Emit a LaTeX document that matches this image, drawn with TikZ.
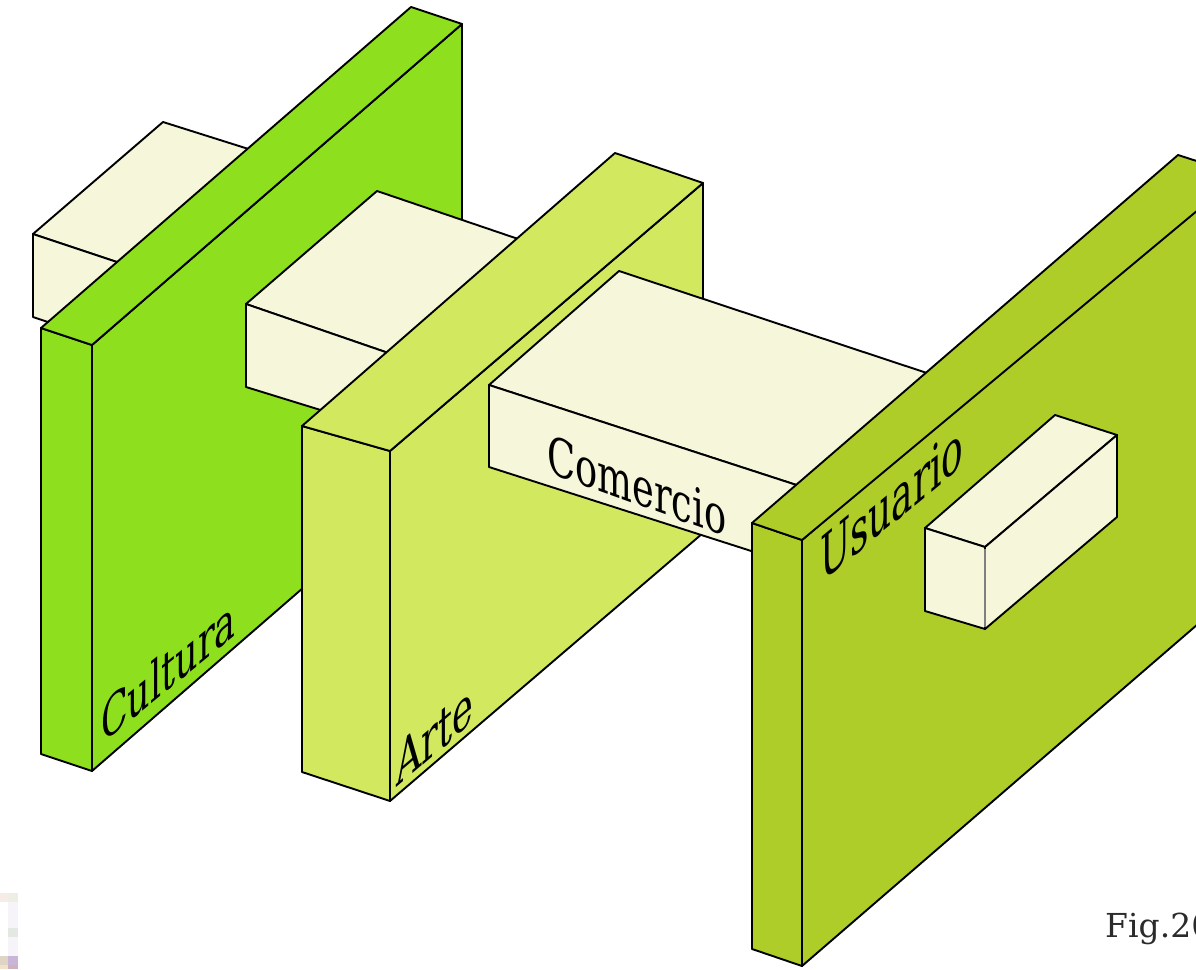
\documentclass[tikz,border=0pt]{standalone}
\usepackage{fontspec}
\setmainfont{DejaVu Serif}
\definecolor{cult}{HTML}{8EE01E}
\definecolor{arte}{HTML}{D2E95F}
\definecolor{usua}{HTML}{AFCD28}
\definecolor{crem}{HTML}{F5F6DA}
\definecolor{figc}{HTML}{2B2B2B}
\definecolor{smA}{HTML}{F5ECE8}
\definecolor{smB}{HTML}{EEEEE4}
\definecolor{smC}{HTML}{E4E8E2}
\definecolor{smD}{HTML}{F6F4F8}
\definecolor{smE}{HTML}{E0D5C5}
\definecolor{smF}{HTML}{C8B5D8}
\definecolor{smG}{HTML}{EFE2C8}
\definecolor{smH}{HTML}{D0B0C0}
\tikzset{
  edge/.style={draw=black,line width=1.9pt,line join=round},
  cream/.style={edge,fill=crem},
  wallc/.style={edge,fill=cult},
  walla/.style={edge,fill=arte},
  wallu/.style={edge,fill=usua},
  lab/.style={inner sep=0pt,anchor=base west,font=\fontsize{46}{46}\selectfont},
}
\begin{document}
\begin{tikzpicture}[x=1pt,y=-1pt]
\useasboundingbox (0,0) rectangle (1196,969);
\begin{scope}
\clip (0,0) rectangle (1196,969);
% smudge bottom left
\fill[smA] (0,893) rectangle (8,902);
\fill[smB] (8,893) rectangle (18,902);
\fill[smD] (8,902) rectangle (18,928);
\fill[smC] (8,928) rectangle (18,937);
\fill[smD] (8,937) rectangle (18,956);
\fill[smE] (0,956) rectangle (8,965);
\fill[smF] (8,956) rectangle (18,965);
\fill[smG] (0,965) rectangle (8,969);
\fill[smH] (8,965) rectangle (18,969);
% box 1
\draw[cream] (33,234) -- (163,122) -- (258,152) -- (126,265) -- cycle;
\draw[cream] (33,234) -- (126,265) -- (60,326) -- (33,317) -- cycle;
% Cultura
\draw[wallc] (92,345) -- (462,24) -- (462,450) -- (92,771) -- cycle;
\draw[wallc] (41,328) -- (92,345) -- (92,771) -- (41,754) -- cycle;
\draw[wallc] (41,328) -- (411,7) -- (462,24) -- (92,345) -- cycle;
\node[lab,cm={.76,.62,0,1.2,(101,745)}] (cultura) at (0,0) {Cultura};
% box 2
\draw[cream] (246,304) -- (377,191) -- (530,243) -- (400,357) -- cycle;
\draw[cream] (246,304) -- (400,357) -- (340,416) -- (246,387) -- cycle;
% Arte
\draw[walla] (390,451) -- (703,183) -- (703,533) -- (390,801) -- cycle;
\draw[walla] (302,426) -- (390,451) -- (390,801) -- (302,772) -- cycle;
\draw[walla] (302,426) -- (615,153) -- (703,183) -- (390,451) -- cycle;
\node[lab,cm={.76,.65,0,1.25,(396,788)}] (arte) at (0,0) {Arte};
% box 3
\draw[cream] (489,385) -- (619,271) -- (945,379) -- (815,491) -- cycle;
\draw[cream] (489,385) -- (815,491) -- (770,557) -- (489,467) -- cycle;
\node[lab,cm={.80,-.29,0,1.15,(547,472)}] (comercio) at (0,0) {Comercio};
% Usuario
\draw[wallu] (802,540) -- (1220,179) -- (1220,605) -- (802,966) -- cycle;
\draw[wallu] (752,523) -- (802,540) -- (802,966) -- (752,949) -- cycle;
\draw[wallu] (752,523) -- (1178,155) -- (1240,175) -- (802,540) -- cycle;
\node[lab,cm={.78,.64,0,1.35,(820,584)}] (usuario) at (0,0) {Usuario};
% small box
\draw[cream] (925,528) -- (1055,415) -- (1117,435) -- (985,547) -- cycle;
\draw[cream] (925,528) -- (985,547) -- (985,629) -- (925,611) -- cycle;
\draw[cream] (985,547) -- (1117,435) -- (1117,517) -- (985,629) -- cycle;
\draw[draw=gray,line width=1.9pt] (985,549) -- (985,627);
% fig
\node[inner sep=0pt,anchor=base west,text=figc,font=\fontsize{33}{33}\selectfont] (fig) at (1105,937) {Fig.20};
\end{scope}
\end{tikzpicture}
\end{document}
